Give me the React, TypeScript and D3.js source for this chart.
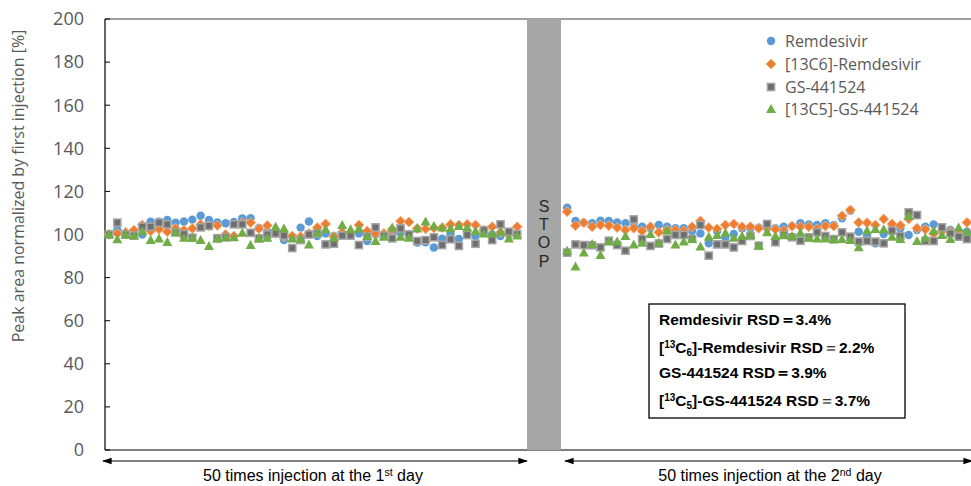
import React from 'react';
import * as d3 from 'd3';

// injection order, day 2 continues after the stop gap
const day1Index = d3.range(1, 51);
const day2Index = d3.range(56, 106);

const remDay1 = [100, 102, 100, 100, 100, 105.9, 105.9, 106.7, 105.5, 106, 106.9, 108.7, 106.7, 105.6, 105.2, 105.8, 107.5, 107.6, 103, 101.3, 100.8, 97.4, 99, 103.2, 106, 99.3, 100.5, 99.3, 100, 100, 100.5, 97, 100, 100, 100.5, 100.8, 100, 96.3, 96.4, 94, 98, 100, 97.9, 99.8, 99.3, 100.8, 100, 99.3, 100, 100.5];
const c6Day1 = [100, 100.5, 101, 102, 104.4, 101.6, 102.4, 101.3, 102.8, 102, 102.8, 104.7, 104, 104.2, 100, 99.3, 105.5, 105.5, 102.7, 104.2, 100.5, 99, 99.3, 99, 100.5, 103.2, 104.9, 99, 101, 100, 104.4, 101.6, 100.5, 100.5, 102.4, 106.2, 105.8, 102.8, 102.6, 103, 103.2, 104.7, 104.4, 104.7, 104.4, 102, 103.6, 101, 100, 103.6];
const gsDay1 = [100, 105.5, 100, 99.5, 103.6, 103.6, 105.5, 104.7, 101, 100.2, 98.5, 103.3, 104, 98.2, 98.7, 104.7, 104.7, 100.8, 98.2, 100, 100.5, 99.5, 93.7, 97.4, 100, 100.5, 95.4, 95.7, 99.5, 99.5, 95.1, 99, 103.3, 99.5, 98.2, 102.8, 100, 97, 97.4, 98.7, 95.1, 97.8, 94.7, 99.8, 95.7, 102, 97.4, 104.7, 101.3, 100.2];
const c5Day1 = [100, 97.8, 100, 99.5, 101.5, 97.4, 98.2, 96.5, 101, 98.5, 98.5, 97.4, 94.7, 98.2, 98.7, 98.7, 100.8, 95.1, 98.2, 98.5, 103.6, 102.8, 98.2, 98, 95.4, 100.8, 102.4, 98.5, 104.4, 102.4, 102.8, 99.3, 97, 99, 103.3, 99, 98.5, 102.8, 106, 104, 103.2, 102.8, 104, 103.2, 101.6, 100.5, 100.5, 101.3, 98.2, 99.5];

const remDay2 = [112.4, 106.3, 105.5, 105.2, 106.4, 106.3, 105.6, 105.2, 103.6, 103.6, 103, 104.4, 103.6, 102.9, 102.9, 101.6, 100.5, 95.9, 101.6, 98.5, 100.2, 102.9, 102.9, 103.2, 102.9, 102.9, 103.6, 103.9, 105.2, 104.7, 104.4, 105.2, 104.4, 107.5, 111, 101.3, 99.3, 95.9, 100.2, 101.3, 102.9, 99.8, 102.1, 103.6, 104.7, 101.6, 102.1, 101.3, 101.3, 100.6];
const c6Day2 = [110.6, 104.1, 105.5, 103.6, 104.4, 104.1, 103.2, 102.1, 102.9, 101.6, 103.6, 101, 102.1, 102.1, 101.6, 103.6, 106.3, 103.2, 102.6, 104.4, 104.9, 103.6, 103.6, 102.9, 103, 102.4, 101.8, 103.9, 103.6, 103.6, 102.6, 103.9, 103.9, 108.7, 111.4, 105.6, 105.5, 104.4, 107.2, 104.9, 104.2, 107.2, 102.9, 102.4, 100.5, 101.6, 101.3, 100.5, 105.6, 102];
const gsDay2 = [91.6, 95.4, 95.1, 95, 94, 97.1, 95.1, 92.5, 107, 97.9, 94.7, 95.8, 97.9, 99.8, 99.8, 98, 104.4, 90.2, 95.4, 95.4, 94, 97, 99.3, 94.8, 104.9, 96.4, 99.8, 98.7, 97.1, 98.7, 101, 99.3, 97.8, 101, 99, 96.7, 97, 96.7, 95.9, 101.8, 99.3, 110.3, 109, 97, 97, 103.3, 100.5, 99, 97.9, 98];
const c5Day2 = [92.5, 85.1, 91.6, 95.6, 90.5, 96.7, 96.7, 99.3, 95.4, 96.2, 100.2, 96.2, 101.8, 95.4, 96.7, 97.9, 94.4, 98.9, 99.8, 100.8, 98.5, 99.3, 99.8, 94.8, 101, 99.3, 99.8, 99.3, 100.8, 98.5, 98.2, 98.2, 97.8, 97.9, 97.4, 94.1, 101.8, 102.6, 102.4, 98.9, 97.9, 108.7, 97, 98.5, 101.8, 99.8, 97.9, 103.3, 101.3, 99];

const seriesNames = ['Remdesivir', '[13C6]-Remdesivir', 'GS-441524', '[13C5]-GS-441524'];
const yTicks = [0, 20, 40, 60, 80, 100, 120, 140, 160, 180, 200];

const W = 971, H = 486;
const left = 105, top = 19, bottom = 450;

const x = d3.scaleLinear().domain([1, 105]).range([109, 109 + 104 * 8.33]);
const y = d3.scaleLinear().domain([0, 200]).range([bottom, top]);

const font = '"Open Sans", sans-serif';
const arial = '"Liberation Sans", Arial, sans-serif';

const styles = [
  { type: 'circle', fill: '#5B9BD5', stroke: 'none' },
  { type: 'diamond', fill: '#ED7D31', stroke: '#F4B183' },
  { type: 'square', fill: '#6E6E6E', stroke: '#A6A6A6' },
  { type: 'triangle', fill: '#70AD47', stroke: 'none' },
];

function Marker({ cx, cy, k }: { cx: number; cy: number; k: number }) {
  const s = styles[k];
  if (s.type === 'circle') return <circle cx={cx} cy={cy} r={4.2} fill={s.fill} />;
  if (s.type === 'diamond')
    return <path d={`M${cx},${cy - 5}L${cx + 5},${cy}L${cx},${cy + 5}L${cx - 5},${cy}Z`} fill={s.fill} stroke={s.stroke} strokeWidth={1} />;
  if (s.type === 'square')
    return <rect x={cx - 3.6} y={cy - 3.6} width={7.2} height={7.2} fill={s.fill} stroke={s.stroke} strokeWidth={1.5} />;
  return <path d={`M${cx},${cy - 5}L${cx + 5},${cy + 4}L${cx - 5},${cy + 4}Z`} fill={s.fill} />;
}

export default function App() {
  const series = [
    [remDay1, remDay2],
    [c6Day1, c6Day2],
    [gsDay1, gsDay2],
    [c5Day1, c5Day2],
  ];
  const legendRows = [41, 64, 87, 109];
  const stopLetters = ['S', 'T', 'O', 'P'];
  const stopY = [212, 230, 248, 267];

  return (
    <div style={{ position: 'absolute', left: 0, top: 0 }}>
      <svg width={W} height={H} style={{ display: 'block', background: '#fff' }}>
        <defs>
          <marker id="ah" viewBox="0 0 10 10" refX="9" refY="5" markerWidth="8" markerHeight="8" orient="auto-start-reverse">
            <path d="M0,1.5L10,5L0,8.5Z" fill="#000" />
          </marker>
        </defs>

        {/* frame */}
        <line x1={left} x2={W} y1={top} y2={top} stroke="#404040" strokeWidth={1} />
        <line x1={left} x2={W} y1={bottom} y2={bottom} stroke="#000" strokeWidth={1.2} />
        <line x1={left} x2={left} y1={top} y2={bottom} stroke="#000" strokeWidth={1.2} />

        {yTicks.map(t => (
          <g key={t}>
            <line x1={left} x2={left + 5} y1={y(t)} y2={y(t)} stroke="#000" />
            <text x={84} y={y(t)} dy="0.35em" textAnchor="end" fontFamily={font} fontSize={18} fill="#595959">{t}</text>
          </g>
        ))}

        <text transform="translate(24,186) rotate(-90)" textAnchor="middle" fontFamily={font} fontSize={16} fill="#595959">
          Peak area normalized by first injection [%]
        </text>

        {/* stop band */}
        <rect x={527} y={top} width={34} height={bottom - top} fill="#A6A6A6" />
        {stopLetters.map((l, i) => (
          <text key={l} x={544} y={stopY[i]} textAnchor="middle" fontFamily={arial} fontSize={16} fill="#262626">{l}</text>
        ))}

        {/* points */}
        {series.map((sr, k) => (
          <g key={k}>
            {sr[0].map((v, i) => <Marker key={'a' + i} cx={x(day1Index[i])} cy={y(v)} k={k} />)}
            {sr[1].map((v, i) => <Marker key={'b' + i} cx={x(day2Index[i])} cy={y(v)} k={k} />)}
          </g>
        ))}

        {/* legend */}
        {seriesNames.map((n, i) => (
          <g key={n}>
            <Marker cx={771} cy={legendRows[i]} k={i} />
            <text x={785} y={legendRows[i]} dy="0.35em" fontFamily={font} fontSize={16} fill="#595959">{n}</text>
          </g>
        ))}

        {/* RSD box */}
        <rect x={649} y={304} width={256} height={114} fill="#fff" stroke="#000" strokeWidth={1.3} />
        <g fontFamily={arial} fontSize={15.5} fontWeight="bold" fill="#000">
          <text x={659} y={325}>Remdesivir RSD＝3.4%</text>
          <text x={659} y={353}>
            [<tspan fontSize={10} dy={-5}>13</tspan><tspan dy={5}>C</tspan><tspan fontSize={10} dy={3}>6</tspan><tspan dy={-3}>]-Remdesivir RSD</tspan><tspan fontWeight="normal">＝</tspan>2.2%
          </text>
          <text x={659} y={378}>GS-441524 RSD＝3.9%</text>
          <text x={659} y={406}>
            [<tspan fontSize={10} dy={-5}>13</tspan><tspan dy={5}>C</tspan><tspan fontSize={10} dy={3}>5</tspan><tspan dy={-3}>]-GS-441524 RSD</tspan><tspan fontWeight="normal">＝</tspan>3.7%
          </text>
        </g>

        {/* day arrows */}
        <line x1={103} x2={527} y1={461} y2={461} stroke="#000" strokeWidth={1.2} markerStart="url(#ah)" markerEnd="url(#ah)" />
        <line x1={565} x2={972} y1={461} y2={461} stroke="#000" strokeWidth={1.2} markerStart="url(#ah)" markerEnd="url(#ah)" />
        <text x={313} y={481} textAnchor="middle" fontFamily={arial} fontSize={16} fill="#000">
          50 times injection at the 1<tspan fontSize={10.5} dy={-5}>st</tspan><tspan dy={5}> day</tspan>
        </text>
        <text x={770} y={481} textAnchor="middle" fontFamily={arial} fontSize={16} fill="#000">
          50 times injection at the 2<tspan fontSize={10.5} dy={-5}>nd</tspan><tspan dy={5}> day</tspan>
        </text>
      </svg>
    </div>
  );
}
